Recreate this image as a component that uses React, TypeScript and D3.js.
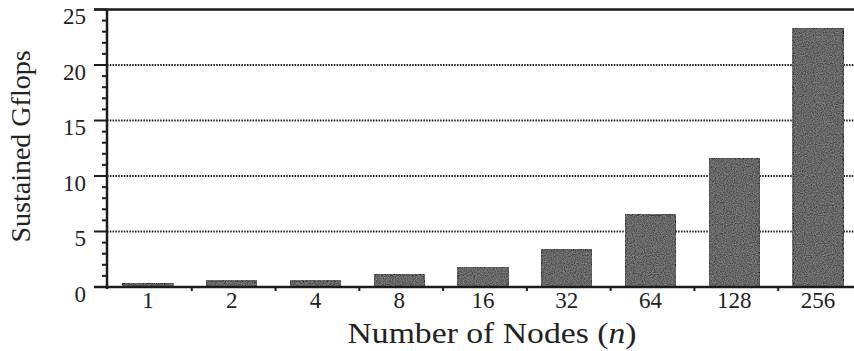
import React from "react";
import * as d3 from "d3";

const categories = ["1", "2", "4", "8", "16", "32", "64", "128", "256"];
const gflops = [0.3, 0.55, 0.55, 1.1, 1.8, 3.35, 6.5, 11.6, 23.3];
const yTicks = [0, 5, 10, 15, 20, 25];
const yMinorTicks = d3.range(0, 26, 1);
const yLabel = "Sustained Gflops";
const xLabel = "Number of Nodes (";
const xLabelVar = "n";

export default function App() {
  const W = 854;
  const H = 351;
  const axisX = 107;
  const y = d3.scaleLinear().domain([0, 25]).range([287, 9.5]);
  const x = d3
    .scaleBand<string>()
    .domain(categories)
    .range([106, 860])
    .paddingInner(0.4)
    .paddingOuter(0.2);
  const step = x.step();
  const font = "Liberation Serif";
  const ink = "#1c1c1c";

  return (
    <svg
      width={W}
      height={H}
      style={{ position: "absolute", left: 0, top: 0, background: "#fff", fontFamily: font }}
    >
      <defs>
        <filter id="grain" x="0" y="0" width="100%" height="100%">
          <feTurbulence type="fractalNoise" baseFrequency="0.9" numOctaves={2} seed={3} result="n" />
          <feColorMatrix
            in="n"
            type="matrix"
            values="0 0 0 0 0.36  0 0 0 0 0.36  0 0 0 0 0.36  0 0 0 1.1 -0.3"
            result="g"
          />
          <feComposite in="g" in2="SourceGraphic" operator="in" result="gg" />
          <feMerge>
            <feMergeNode in="SourceGraphic" />
            <feMergeNode in="gg" />
          </feMerge>
        </filter>
      </defs>

      {/* gridlines */}
      {yTicks
        .filter((t) => t > 0 && t < 25)
        .map((t) => (
          <line
            key={"g" + t}
            x1={axisX}
            x2={W}
            y1={y(t)}
            y2={y(t)}
            stroke={ink}
            strokeWidth={1.8}
            strokeDasharray="1.5 1.3"
          />
        ))}

      {/* bars */}
      {categories.map((c, i) => (
        <rect
          key={c}
          x={x(c)}
          y={y(gflops[i])}
          width={x.bandwidth()}
          height={y(0) - y(gflops[i])}
          fill="#4a4a4a"
          stroke="#1a1a1a"
          strokeWidth={1.5}
          filter="url(#grain)"
        />
      ))}

      {/* top border */}
      <line x1={94} x2={W} y1={y(25)} y2={y(25)} stroke={ink} strokeWidth={2.5} />

      {/* y axis */}
      <line x1={axisX} x2={axisX} y1={y(25)} y2={y(0) + 2} stroke={ink} strokeWidth={2.5} />
      {yMinorTicks.map((t) => (
        <line
          key={"m" + t}
          x1={axisX - (t % 5 === 0 ? 13 : 5)}
          x2={axisX}
          y1={y(t)}
          y2={y(t)}
          stroke={ink}
          strokeWidth={2}
        />
      ))}
      {yTicks.map((t) => (
        <text
          key={"yl" + t}
          x={86}
          y={y(t) + 14.5}
          textAnchor="end"
          fontSize={23}
          fontFamily={font}
          fill="#222"
        >
          {t}
        </text>
      ))}

      {/* x axis */}
      <line x1={94} x2={W} y1={y(0)} y2={y(0)} stroke={ink} strokeWidth={2.5} />
      {categories.slice(1).map((c) => (
        <line
          key={"xt" + c}
          x1={(x(c) as number) - (step * 0.4) / 2 + 2}
          x2={(x(c) as number) - (step * 0.4) / 2 + 2}
          y1={y(0)}
          y2={y(0) + 4}
          stroke={ink}
          strokeWidth={2}
        />
      ))}
      {categories.map((c) => (
        <text
          key={"xl" + c}
          x={(x(c) as number) + x.bandwidth() / 2}
          y={308}
          textAnchor="middle"
          fontSize={23}
          fontFamily={font}
          fill="#222"
        >
          {c}
        </text>
      ))}

      {/* axis titles */}
      <text
        x={492}
        y={343}
        textAnchor="middle"
        fontSize={29}
        fontFamily={font}
        fill="#222"
        textLength={289}
        lengthAdjust="spacingAndGlyphs"
      >
        {xLabel}
        <tspan fontStyle="italic">{xLabelVar}</tspan>)
      </text>
      <text
        transform={`translate(30, 146.5) rotate(-90)`}
        textAnchor="middle"
        fontSize={28}
        fontFamily={font}
        fill="#222"
      >
        {yLabel}
      </text>
    </svg>
  );
}
